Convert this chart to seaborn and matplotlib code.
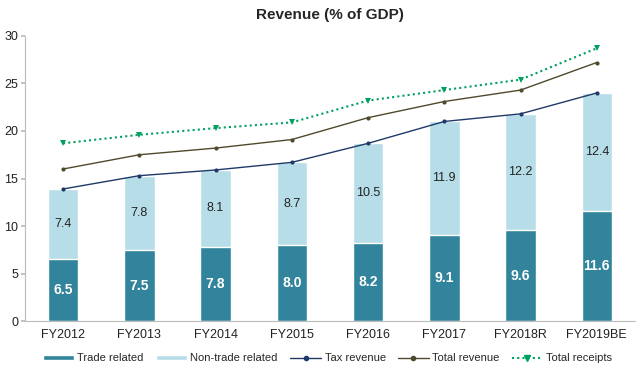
import numpy as np
import pandas as pd
import seaborn as sns
import matplotlib.pyplot as plt
from matplotlib.patches import Patch
from matplotlib.lines import Line2D

# Data
years = ["FY2012", "FY2013", "FY2014", "FY2015", "FY2016", "FY2017", "FY2018R", "FY2019BE"]
trade = [6.5, 7.5, 7.8, 8.0, 8.2, 9.1, 9.6, 11.6]
non_trade = [7.4, 7.8, 8.1, 8.7, 10.5, 11.9, 12.2, 12.4]
tax_revenue = [13.9, 15.3, 15.9, 16.7, 18.7, 21.0, 21.8, 24.0]
total_revenue = [16.0, 17.5, 18.2, 19.1, 21.4, 23.1, 24.3, 27.2]
total_receipts = [18.7, 19.6, 20.3, 20.9, 23.2, 24.3, 25.4, 28.7]

dark = "#31849B"
light = "#B7DEE8"
navy = "#1F3A68"
olive = "#4F4A2C"
green = "#00A060"

sns.set_theme(style="white")
plt.rcParams["font.family"] = ["Liberation Sans", "DejaVu Sans"]

df = pd.DataFrame({"year": years, "trade": trade, "non_trade": non_trade})
df["stack"] = df["trade"] + df["non_trade"]
x = np.arange(len(years))

fig, ax = plt.subplots(figsize=(6.4, 3.7), dpi=100)
fig.subplots_adjust(left=0.039, right=0.992, bottom=0.132, top=0.903)

sns.barplot(data=df, x="year", y="stack", color=light, saturation=1, width=0.4, ax=ax)
sns.barplot(data=df, x="year", y="trade", color=dark, saturation=1, width=0.4, ax=ax)

sns.lineplot(x=x, y=tax_revenue, color=navy, lw=1, marker="o", markersize=3,
             markeredgewidth=0, ax=ax)
sns.lineplot(x=x, y=total_revenue, color=olive, lw=1, marker="o", markersize=3,
             markeredgewidth=0, ax=ax)
sns.lineplot(x=x, y=total_receipts, color=green, lw=1.5, linestyle=(0, (1, 1.5)),
             marker="v", markersize=5, markeredgewidth=0, ax=ax)

# segment labels
for i in range(len(years)):
    ax.text(x[i], trade[i] / 2, f"{trade[i]:.1f}", ha="center", va="center",
            color="white", fontsize=10, fontweight="bold")
    ax.text(x[i], trade[i] + non_trade[i] / 2, f"{non_trade[i]:.1f}", ha="center",
            va="center", color="#222222", fontsize=9)

ax.set_ylim(0, 30)
ax.set_xlim(-0.5, len(years) - 0.5)
ax.set_yticks(range(0, 31, 5))
ax.set_xticks(np.arange(-0.5, len(years), 1), minor=True)
ax.set_xlabel("")
ax.set_ylabel("")
ax.tick_params(axis="x", which="major", length=0, labelsize=9, pad=6, colors="#222222")
ax.tick_params(axis="x", which="minor", length=4, color="#BBBBBB", direction="out")
ax.tick_params(axis="y", length=3, color="#BBBBBB", labelsize=9, pad=2, labelcolor="#222222", left=True)
sns.despine(ax=ax)
for s in ["left", "bottom"]:
    ax.spines[s].set_color("#BBBBBB")
    ax.spines[s].set_linewidth(0.8)

ax.set_title("Revenue (% of GDP)", fontsize=11, fontweight="bold", pad=12)

handles = [
    Patch(facecolor=dark, label="Trade related"),
    Patch(facecolor=light, label="Non-trade related"),
    Line2D([], [], color=navy, lw=1, marker="o", markersize=3, label="Tax revenue"),
    Line2D([], [], color=olive, lw=1, marker="o", markersize=3, label="Total revenue"),
    Line2D([], [], color=green, lw=1.5, linestyle=(0, (1, 1.5)), marker="v",
           markersize=5, label="Total receipts"),
]
fig.legend(handles=handles, loc="center", bbox_to_anchor=(0.512, 0.032), ncol=5,
           frameon=False, fontsize=8, handlelength=2.8, handleheight=0.35,
           columnspacing=1.1, handletextpad=0.3, borderpad=0)

fig.savefig("out.png", dpi=100)
